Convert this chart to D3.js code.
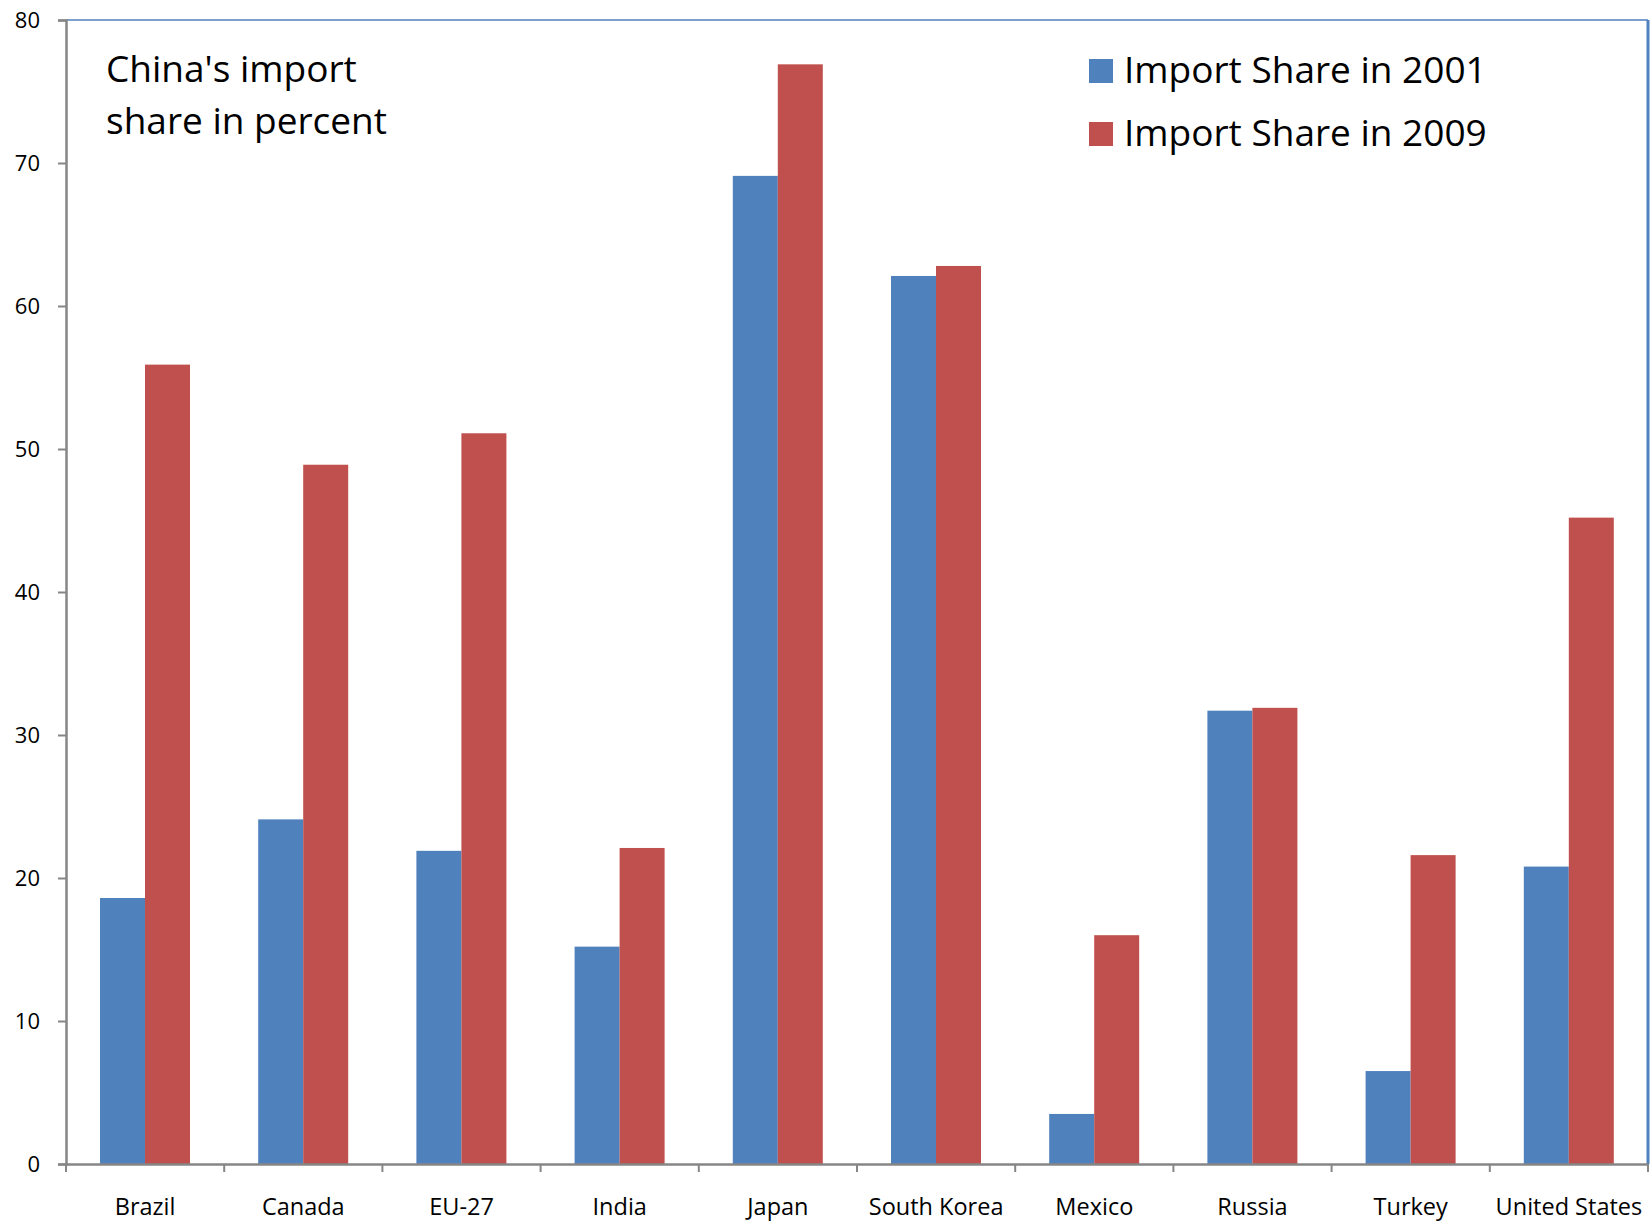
<!DOCTYPE html>
<html lang="en">
<head>
    <meta charset="UTF-8">
    <title>China's import share</title>
    <style>
        body { margin: 0; background: #fff; }
        svg { display: block; font-family: "Open Sans", "Noto Sans", sans-serif; }
    </style>
</head>
<body>
    <svg width="1650" height="1222"></svg>
    <script src="https://d3js.org/d3.v7.min.js"></script>
    <script>
        const countries = ["Brazil", "Canada", "EU-27", "India", "Japan", "South Korea", "Mexico", "Russia", "Turkey", "United States"];
        const series = ["Import Share in 2001", "Import Share in 2009"];
        const share2001 = [18.6, 24.1, 21.9, 15.2, 69.1, 62.1, 3.5, 31.7, 6.5, 20.8];
        const share2009 = [55.9, 48.9, 51.1, 22.1, 76.9, 62.8, 16.0, 31.9, 21.6, 45.2];
        const yTicks = [0, 10, 20, 30, 40, 50, 60, 70, 80];

        const colors = { "Import Share in 2001": "#4F81BD", "Import Share in 2009": "#C0504D" };
        const plotLeft = 66, plotRight = 1648, plotTop = 20, plotBottom = 1164;

        const rows = countries.map((c, i) => ({ country: c, values: [share2001[i], share2009[i]] }));

        const svg = d3.select("svg");

        const x = d3.scaleBand().domain(countries).range([plotLeft, plotRight]).padding(0);
        const xSeries = d3.scaleBand().domain(series).range([34, 124]).padding(0);
        const y = d3.scaleLinear().domain([0, 80]).range([plotBottom, plotTop]);

        // plot frame (blue top/right like the original)
        svg.append("line").attr("x1", plotLeft).attr("x2", plotRight).attr("y1", plotTop).attr("y2", plotTop)
            .attr("stroke", "#4F81BD").attr("stroke-width", 1.5);
        svg.append("line").attr("x1", plotRight).attr("x2", plotRight).attr("y1", plotTop).attr("y2", plotBottom)
            .attr("stroke", "#4F81BD").attr("stroke-width", 3);

        // bars
        const groups = svg.selectAll(".group")
            .data(rows)
            .join("g")
            .attr("class", "group")
            .attr("transform", d => `translate(${x(d.country)},0)`);

        groups.selectAll("rect")
            .data(d => d.values.map((v, i) => ({ key: series[i], value: v })))
            .join("rect")
            .attr("x", d => xSeries(d.key))
            .attr("width", xSeries.bandwidth())
            .attr("y", d => y(d.value))
            .attr("height", d => y(0) - y(d.value))
            .attr("fill", d => colors[d.key]);

        // y axis
        const yAxis = svg.append("g")
            .attr("transform", `translate(${plotLeft},0)`)
            .call(d3.axisLeft(y).tickValues(yTicks).tickSize(8).tickPadding(18));
        yAxis.select(".domain").attr("stroke", "#868686").attr("stroke-width", 2.5);
        yAxis.selectAll(".tick line").attr("stroke", "#868686").attr("stroke-width", 2);
        yAxis.selectAll("text").attr("font-size", 22).attr("fill", "#000")
            .attr("font-family", "'Open Sans', sans-serif");

        // x axis with ticks between categories
        const xAxis = svg.append("g")
            .attr("transform", `translate(0,${plotBottom})`)
            .call(d3.axisBottom(x).tickSize(0).tickPadding(34));
        xAxis.select(".domain").attr("stroke", "#868686").attr("stroke-width", 2.5);
        xAxis.selectAll("text").attr("font-size", 23.5).attr("fill", "#000")
            .attr("font-family", "'Open Sans', sans-serif");
        xAxis.selectAll(".sep")
            .data(countries.map(c => x(c)).concat([plotRight]))
            .join("line")
            .attr("class", "sep")
            .attr("x1", d => d).attr("x2", d => d)
            .attr("y1", 0).attr("y2", 8)
            .attr("stroke", "#868686").attr("stroke-width", 2);

        // title inside plot
        svg.append("text")
            .attr("x", 106).attr("y", 82)
            .attr("font-size", 37).attr("fill", "#000")
            .selectAll("tspan")
            .data(["China's import", "share in percent"])
            .join("tspan")
            .attr("x", 106)
            .attr("dy", (d, i) => i === 0 ? 0 : 52)
            .text(d => d);

        // legend
        const legend = svg.append("g").attr("transform", "translate(1089,59)");
        const item = legend.selectAll("g")
            .data(series)
            .join("g")
            .attr("transform", (d, i) => `translate(0,${i * 63})`);
        item.append("rect").attr("width", 24).attr("height", 24).attr("fill", d => colors[d]);
        item.append("text")
            .attr("x", 35).attr("y", 24)
            .attr("font-size", 37).attr("fill", "#000")
            .text(d => d);
    </script>
</body>
</html>
